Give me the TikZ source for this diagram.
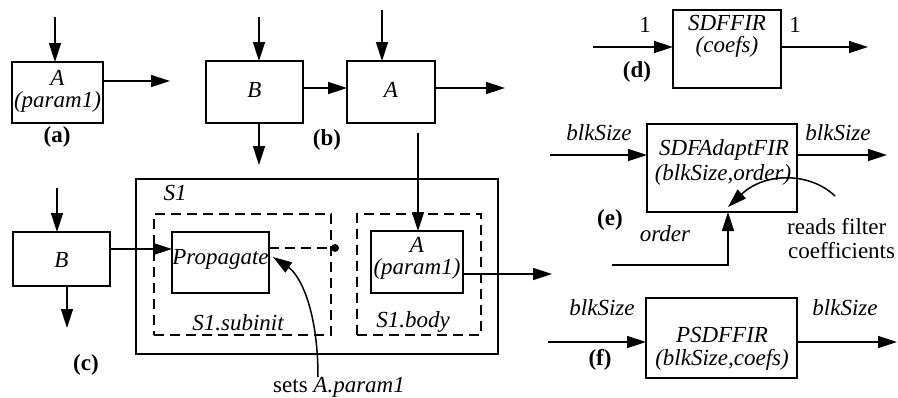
\documentclass[tikz,border=0pt]{standalone}
\usepackage{fontspec}
\setmainfont{Liberation Serif}
\usetikzlibrary{arrows.meta}
\begin{document}
\begin{tikzpicture}[x=1pt,y=-1pt,
  font=\fontsize{23}{27}\selectfont,
  box/.style={draw, line width=1.5pt, inner sep=0pt, outer sep=0pt},
  dbox/.style={draw, line width=1.5pt, dash pattern=on 10pt off 6pt, inner sep=0pt, outer sep=0pt},
  it/.style={font=\fontsize{23}{27}\selectfont\itshape, inner sep=0pt},
  rm/.style={inner sep=0pt},
  lab/.style={font=\fontsize{23}{27}\selectfont\bfseries, inner sep=0pt},
  arr/.style={line width=1.5pt, -{Triangle[length=19pt,width=12pt]}},
  ln/.style={line width=1.5pt}]
\useasboundingbox (0,0) rectangle (898,397);

% (a)
\node[box, minimum width=91, minimum height=61] (abox) at (57.5,92.5) {};
\node[it] (atA) at (57.5,78) {A};
\node[it] (atP) at (57.5,102) {(param1)};
\coordinate (ain) at (55,17);
\coordinate (aout) at (170,81);
\draw[arr] (ain) -- (ain |- abox.north);
\draw[arr] (aout -| abox.east) -- (aout);
\node[lab] (la) at (57,137) {(a)};

% (b)
\node[box, minimum width=97, minimum height=62] (bB) at (254.5,92) {};
\node[it] (bBt) at (254.5,90) {B};
\node[box, minimum width=88, minimum height=62] (bA) at (391,92) {};
\node[it] (bAt) at (391,90) {A};
\coordinate (bBin) at (259,17);
\coordinate (bAin) at (382,10);
\coordinate (bBdown) at (259,165);
\coordinate (bAout) at (505,88);
\draw[arr] (bBin) -- (bBin |- bB.north);
\draw[arr] (bAin) -- (bAin |- bA.north);
\draw[arr] (bBdown |- bB.south) -- (bBdown);
\draw[arr] (bB.east |- bAout) -- (bA.west |- bAout);
\draw[arr] (bA.east |- bAout) -- (bAout);
\node[lab] (lb) at (327,140) {(b)};

% (c)
\node[box, minimum width=362, minimum height=175] (S1) at (317,266.5) {};
\node[it] (S1t) at (175,193) {S1};
\node[dbox, minimum width=177, minimum height=121] (sub) at (242.5,274.5) {};
\node[dbox, minimum width=124, minimum height=121] (body) at (419,274.5) {};
\node[box, minimum width=97, minimum height=54] (cB) at (61.5,259) {};
\node[it] (cBt) at (61.5,260) {B};
\node[box, minimum width=97, minimum height=61] (prop) at (220.5,262.5) {};
\node[it] (propt) at (220.5,259) {Propagate};
\node[box, minimum width=92, minimum height=62] (cA) at (417,262) {};
\node[it] (cAt) at (417,245) {A};
\node[it] (cAp) at (417,269) {(param1)};
\coordinate (cBin) at (57,188);
\coordinate (cBdown) at (67,328);
\coordinate (cBP) at (0,249);
\draw[arr] (cBin) -- (cBin |- cB.north);
\draw[arr] (cBdown |- cB.south) -- (cBdown);
\draw[arr] (cB.east |- cBP) -- (prop.west |- cBP);
\node[circle, fill, inner sep=0pt, minimum size=8] (dot) at (335,248) {};
\draw[ln, dash pattern=on 10pt off 6pt] (prop.east |- dot) -- (dot);
\coordinate (vtop) at (418,133);
\draw[arr] (vtop) -- (vtop |- cA.north);
\coordinate (cAout) at (552,274);
\draw[arr] (cA.east |- cAout) -- (cAout);
\node[it] (subt) at (238,323) {S1.subinit};
\node[it] (bodyt) at (413,322) {S1.body};
\node[lab] (lc) at (86,365) {(c)};
\node[rm] (sets) at (339,387) {sets \textit{A.param1}};
\coordinate (setsup) at (318,377);
\coordinate (tip) at (273,257);
\draw[arr] (setsup) .. controls (318,310) and (300,275) .. (tip);

% (d)
\node[box, minimum width=108, minimum height=78] (dbx) at (727,49) {};
\node[it] (dt1) at (727,23) {SDFFIR};
\node[it] (dt2) at (727,47) {(coefs)};
\coordinate (din) at (593,47);
\coordinate (dout) at (868,47);
\draw[arr] (din) -- (din -| dbx.west);
\draw[arr] (dout -| dbx.east) -- (dout);
\node[rm] (d1) at (645,25) {1};
\node[rm] (d2) at (795,25) {1};
\node[lab] (ld) at (637,72) {(d)};

% (e)
\node[box, minimum width=150, minimum height=88] (ebx) at (722,168) {};
\node[it] (et1) at (724,150) {SDFAdaptFIR};
\node[it] (et2) at (723,175) {(blkSize,order)};
\coordinate (ein) at (550,155);
\coordinate (eout) at (887,155);
\draw[arr] (ein) -- (ein -| ebx.west);
\draw[arr] (eout -| ebx.east) -- (eout);
\node[it] (eb1) at (599,133) {blkSize};
\node[it] (eb2) at (838,133) {blkSize};
\node[lab] (le) at (610,220) {(e)};
\node[it] (ord) at (665,234) {order};
\coordinate (ordS) at (612,265);
\coordinate (ordC) at (728,265);
\draw[arr] (ordS) -- (ordC) -- (ordC |- ebx.south);
\coordinate (rs) at (835,196);
\coordinate (rt) at (728,207);
\draw[arr] (rs) .. controls (810,172) and (765,172) .. (rt);
\node[rm, anchor=west] (rf1) at (787,227) {reads filter};
\node[rm, anchor=west] (rf2) at (788,251) {coefficients};

% (f)
\node[box, minimum width=151, minimum height=80] (fbx) at (721.5,338) {};
\node[it] (ft1) at (722,335) {PSDFFIR};
\node[it] (ft2) at (722,360) {(blkSize,coefs)};
\coordinate (fin) at (548,342);
\coordinate (fout) at (897,342);
\draw[arr] (fin) -- (fin -| fbx.west);
\draw[arr] (fout -| fbx.east) -- (fout);
\node[it] (fb1) at (602,308) {blkSize};
\node[it] (fb2) at (845,308) {blkSize};
\node[lab] (lf) at (600,360) {(f)};
\end{tikzpicture}
\end{document}
